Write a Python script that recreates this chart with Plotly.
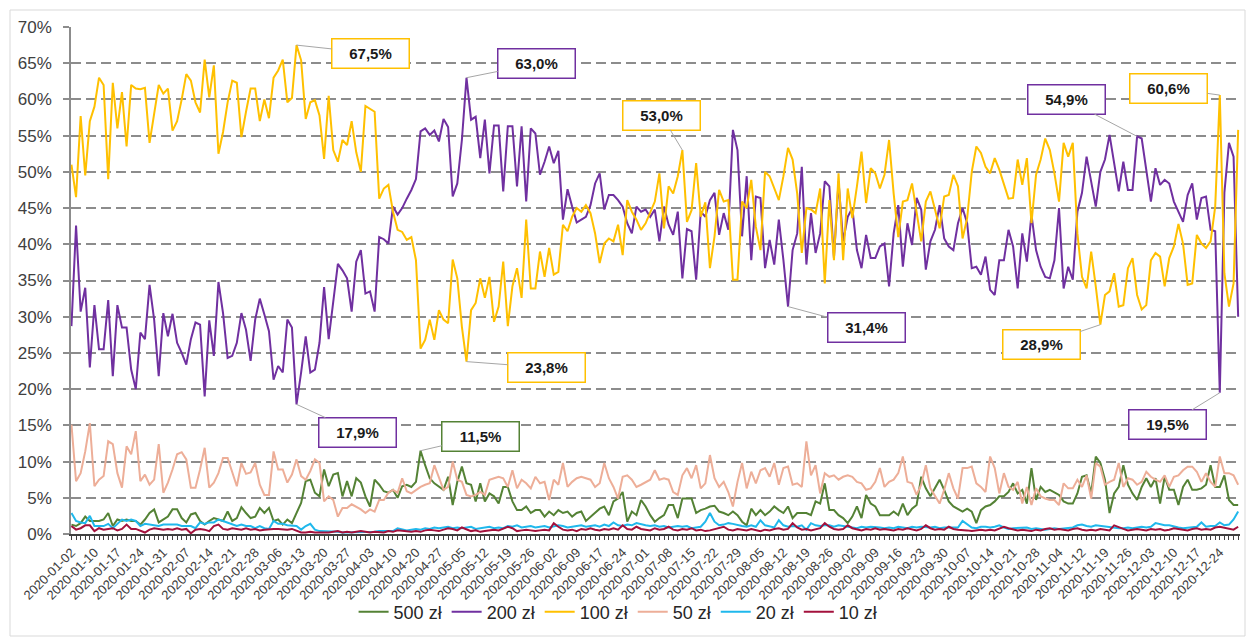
import pandas as pd
import plotly.graph_objects as go

# ---- categories: Polish business days of 2020 ----
START = "2020-01-02"
END = "2020-12-31"
HOLIDAYS = ["2020-01-06", "2020-04-13", "2020-05-01", "2020-06-11", "2020-11-11", "2020-12-25"]
dates = [d.strftime("%Y-%m-%d") for d in pd.bdate_range(START, END, freq="C", holidays=HOLIDAYS)]

TICK_LABELS = [
    "2020-01-02", "2020-01-10", "2020-01-17", "2020-01-24", "2020-01-31", "2020-02-07", "2020-02-14",
    "2020-02-21", "2020-02-28", "2020-03-06", "2020-03-13", "2020-03-20", "2020-03-27", "2020-04-03",
    "2020-04-10", "2020-04-20", "2020-04-27", "2020-05-05", "2020-05-12", "2020-05-19", "2020-05-26",
    "2020-06-02", "2020-06-09", "2020-06-17", "2020-06-24", "2020-07-01", "2020-07-08", "2020-07-15",
    "2020-07-22", "2020-07-29", "2020-08-05", "2020-08-12", "2020-08-19", "2020-08-26", "2020-09-02",
    "2020-09-09", "2020-09-16", "2020-09-23", "2020-09-30", "2020-10-07", "2020-10-14", "2020-10-21",
    "2020-10-28", "2020-11-04", "2020-11-12", "2020-11-19", "2020-11-26", "2020-12-03", "2020-12-10",
    "2020-12-17", "2020-12-24",
]

# ---- series values (%) ----
zl500 = [
    1.3, 1.1, 1.5, 2.4, 1.8, 1.8, 1.8, 2, 2.9, 1.1,
    2, 1.8, 2, 1.8, 1.8, 1.3, 2, 2.9, 3.4, 1.6,
    2, 2.4, 3.4, 3.4, 2.2, 1.6, 2.7, 2.9, 1.8, 1.3,
    1.8, 2.2, 2, 1.8, 3.1, 1.8, 2.2, 3.7, 2.9, 2.2,
    2.4, 3.6, 2.9, 3.6, 1.8, 2, 1.3, 2, 1.5, 2.9,
    4.3, 7.3, 7.5, 5.7, 5.2, 8.9, 6.6, 8.2, 8.4, 5.2,
    7.3, 5.2, 7.7, 7.1, 5.2, 3.8, 7.5, 6.8, 5.9, 5.7,
    6.1, 5, 6.6, 6.8,
    6.5, 7.2, 11.5, 9.5, 7.7, 7, 6.5, 6.1, 7.9, 4,
    7.2, 9.3, 7, 6.8, 4.5, 7, 4.5, 5.6, 5.2, 4.2,
    6.5, 6.5, 4.5, 3.3, 3.3, 3.8, 2.9, 3.3, 3.3, 2.4,
    3.1, 2.6, 3.3, 2.9, 3.1, 2.4, 2.9, 3.1, 1.8, 2.4,
    2.9, 3.5, 3.8, 2.6, 4.5, 4.9, 5.8, 1.7, 3.1, 2.6,
    4.7, 3.8, 2.6, 1.7, 2.2, 2.6, 4, 4, 2.2, 4.9, 4.9,
    4.9, 2.9, 3.3, 3.5, 3.8, 3.9, 3.1, 2.9, 2.6, 3.1,
    2.6, 1.7, 1.2, 3.5, 2.6, 3.3, 2.6, 3.1, 3.8, 3.3,
    2.9, 3.8, 2.2, 2.9, 2.9, 2.9, 2.6, 4.5, 4.2, 7,
    3.3, 3.3, 2.6, 2.2, 1.5, 2.4, 3.8, 2.2, 5.4, 4.2,
    3.8, 2.6, 2.6, 2.6, 3.1, 2.6, 4.2, 2.6, 3.5, 4,
    7.9, 6.3, 5.2, 6.3, 7.5, 6.1, 4.5, 3.8, 3.5,
    3.1, 3.5, 3.1, 1.5, 3.3, 3.8, 4, 4.5, 5.2, 5.2,
    5.8, 7, 5.6, 6.1, 4.2, 9.1, 4.7, 6.5, 5.8, 6.1,
    5.8, 5.4, 4.5, 4.2, 4.2, 5.6, 7.9, 8.1, 5.6, 10.7,
    9.8, 7.5, 2.9, 5.6, 6.5, 9.5, 6.8, 5.6, 4.7, 6.5,
    7.7, 6.5, 7.7, 4.2, 7.9, 6.1, 6.1, 4, 6.5, 7.5,
    6.1, 6.1, 6.3, 6.8, 9.5, 6.5, 6.5, 8.1, 4.7, 4, 4,
]

zl200 = [
    28.7, 42.6, 30.7, 34, 23, 31.6, 25.5, 25.5, 32.3, 21.8,
    31.6, 28.5, 28.5, 22.7, 20, 27.8, 26.9, 34.4, 29.6, 21.8,
    30.5, 27.3, 30.4, 26.4, 25, 23.4, 26.9, 29.2, 28.9, 19,
    29.5, 24.6, 34.8, 30.5, 24.3, 24.6, 26.4, 30.5, 28.2, 23.9,
    29.6, 32.5, 30.3, 28, 21.3, 23.2, 22.3, 29.6, 28.5, 17.9,
    22.3, 27.3, 22.3, 22.7, 26.4, 34.1, 26.9, 32.5, 37.3, 36.4,
    35.3, 30.7, 37.6, 39.2, 33.2, 33.5, 30.7, 41, 40.7, 40.1,
    45.2, 44.1, 45, 46.3, 47.5, 49, 55.6, 56, 55.1, 55.7,
    54.2, 57.3, 56.2, 46.6, 48.4, 54.4, 63.0, 57.2, 57.6, 51.9,
    57.2, 49.8, 56.4, 56.4, 47.3, 56.3, 56.3, 48, 56.3, 45.9,
    56, 55.3, 49.6, 51.4, 53.5, 51.2, 52.9, 43.4, 47.6, 45.2,
    43, 43.4, 43.8, 45.4, 48.4, 49.8, 44.8, 46.8, 46.8, 46.1,
    45.2, 42.9, 41.5, 45.2, 44.5, 44.8, 43.8, 44.8, 40.4, 45.2,
    42.7, 41.3, 44.5, 35.3, 42.1, 41.8, 35.1, 44.5, 43.8, 46.1,
    47.1, 41.3, 44.3, 42, 55.8, 53, 41.1, 49.4, 37.8, 46.6,
    46.4, 36.7, 40.6, 37.2, 43.4, 37.8, 31.4, 39.2, 41.5, 50.7,
    37.2, 44.3, 38.8, 41.5, 48.7, 48, 38.1, 48.7, 40.4, 43.8,
    45, 39.2, 36.7, 41.3, 38.1, 38.1, 39.7, 40.1, 34.2, 41.5,
    45.4, 36.9, 42.9, 39.9, 46.4, 44.8, 36.5, 40.4, 42, 45.4,
    40.8, 39.7, 39.2, 42.9, 45, 42.9, 36.7, 36.9, 35.8, 38.3,
    33.7, 33, 37.8, 37.8, 42, 39.7, 33.9, 41.5, 37.6, 44.1,
    39.2, 36.9, 35.5, 35.3, 37.8, 45, 33.9, 36.9, 35.1, 44.5,
    47.1, 52.1, 48.9, 45.2, 50, 51.7, 55.1, 51.2, 47.3, 51.4,
    47.5, 47.5, 54.9, 54.6, 50.3, 45.9, 50.5, 48.2, 48.9, 48.4,
    45.9, 44.5, 43.1, 46.8, 48.4, 43.4, 46.4, 46.6, 42, 41.8,
    19.5, 47.1, 54, 52.1, 30,
]

zl100 = [
    51, 46.5, 57.7, 49.5, 57, 59, 63, 62, 49, 62.3,
    56, 61, 53.5, 62, 61.5, 61.4, 61.6, 54, 58, 62,
    60.8, 61.5, 55.7, 57, 60, 63.5, 62.6, 59.6, 58.2, 65.5,
    60.3, 64.7, 52.5, 55.5, 59.6, 62.6, 62.3, 54.8, 58.3, 61.5,
    61.5, 57, 60, 57.4, 63, 64, 65.5, 59.6, 60.2, 67.5,
    65.4, 57.3, 59.6, 59.9, 57.8, 51.8, 60.5, 53, 51.4, 54.4,
    53.7, 57, 52.7, 50, 59.1, 58.7, 58.3, 46.3, 47.7, 48.2,
    44.5, 42, 41.7, 40.6, 41, 37.8, 25.6, 26.8, 29.6, 26.8,
    30.9, 29.6, 29.1, 37.9, 35.3, 28.6, 23.8, 30.9, 31.9, 35.3,
    32.6, 35.5, 29.3, 31.4, 37.6, 28.7, 34.2, 36.7, 32.6, 43.4,
    33.9, 33.9, 39, 35.5, 39.5, 35.8, 36.2, 42.7, 41.8, 43.8,
    45, 44.5, 45.4, 44.3, 41.5, 37.4, 40.1, 40.8, 40.4, 42.7,
    38.5, 46.1, 44.5, 43.4, 42, 42.9, 44.3, 45.9, 49.8, 42.2,
    48, 47, 49.4, 53.0, 43.1, 44.7, 51.2, 43.8, 45.8, 36.7,
    41.1, 47.5, 45.9, 46.1, 35.1, 35.1, 45.9, 45, 48.9, 42.4,
    39.2, 50, 49.4, 47.7, 46.1, 49.4, 53.3, 51.7, 47, 38.8,
    45, 44.8, 44.3, 47.7, 34.6, 46.1, 37.8, 49.8, 37.8, 47.7,
    43.6, 48, 52.8, 45.7, 50.5, 49.8, 47.7, 49.6, 54.4, 47,
    41, 45.9, 46.1, 48.4, 44.3, 40.4, 45.9, 47.3, 44.8, 42.2,
    46.6, 46.8, 49.6, 48, 40.8, 43.6, 50, 53.5, 52.6, 50.7,
    49.8, 51.9, 50.3, 48.4, 46.3, 46.4, 51.7, 48.2, 51.9, 42.9,
    49.6, 51.7, 54.6, 53, 49.8, 45.9, 54, 52.1, 54, 41.5,
    35.5, 33.9, 39, 34.2, 28.9, 33, 33.5, 36, 31.4, 31.6,
    36.7, 38.1, 33, 31, 31.6, 37.8, 38.8, 38.3, 34.2, 38.1,
    39.7, 42.8, 40.1, 34.4, 34.6, 41.3, 40.1, 39.5, 40.4, 45.2,
    60.6, 36, 31.4, 34.6, 55.8,
]

zl50 = [
    15.1, 7.3, 8.4, 11.4, 15.3, 6.6, 7.5, 8, 12.8, 12.4,
    8.4, 6.4, 12.1, 11, 14.2, 7.3, 8.2, 6.8, 7.5, 12.4,
    5.7, 7.1, 8.9, 11, 11.3, 10.3, 6.4, 6.4, 8.9, 11.9,
    6.4, 7.1, 8.4, 10.5, 10.5, 8.4, 6.6, 9.8, 8.3, 8.5,
    9.8, 6.8, 5.4, 5.4, 11.4, 8.9, 8.9, 7.1, 8.2, 10.3,
    8, 7.5, 8.7, 10.3, 9.8, 4.5, 5.2, 4.7, 2.4, 3.6,
    3.6, 4.1, 3.8, 3.4, 2.9, 3.4, 3.1, 4.7, 4.7, 5.7,
    6.1, 5.7, 7.7, 5.9,
    5.6, 6.1, 6.5, 6.8, 7, 9.5, 7.7, 6.1, 6.5, 10,
    7.5, 7.2, 5.4, 5.2, 5.4, 5.8, 5.4, 7.5, 7.7, 7.9,
    7.7, 6.5, 8.8, 6.3, 7.5, 7, 6.3, 7.9, 7, 7.2,
    4.7, 7.5, 6.8, 9.8, 6.5, 7.2, 7.7, 7.9, 7.7, 7.5,
    6.5, 7, 9.8, 7.7, 6.5, 4.9, 7.9, 8.1, 7.5, 6.5,
    6.8, 7.2, 7.5, 8.8, 7.5, 7.7, 7.5, 5.8, 5.4, 8.1, 9.1,
    7.7, 9.5, 6.3, 7, 10.9, 7.7, 6.5, 7.2, 5.8, 3.8,
    7.2, 9.8, 6.3, 8.6, 7, 8.8, 9.1, 7.9, 9.8, 6.8,
    9.1, 9.3, 6.8, 7, 6.5, 12.8, 8.1, 9.5, 5.6, 8.4,
    7.9, 8.1, 7.5, 7.9, 8.1, 7.9, 7.2, 7, 6.1, 6.3,
    7.2, 9.1, 6.5, 7.2, 7.5, 8.4, 10.7, 7.2, 7, 5.4,
    6.8, 9.5, 6.3, 5.2, 4.2, 6.1, 8.4, 6.3, 4.9,
    9.1, 9.1, 9.3, 7, 6.5, 5.8, 10.7, 9.1, 5.6, 8.4,
    6.5, 6.1, 7.2, 4.2, 6.5, 4, 6.3, 5.2, 4.9, 4.7,
    4.7, 4, 7, 6.3, 6.3, 7.5, 6.5, 8.1, 4.9, 9.8,
    9.3, 6.8, 7.2, 7.5, 9.8, 6.5, 7.7, 7.5, 6.8, 7.2,
    8.6, 7.9, 7.5, 7.2, 8.1, 6.5, 7.9, 8.1, 8.8, 9.3,
    9.3, 8.6, 7.2, 8.4, 7.2, 6.5, 10.7, 8.4, 8.4, 8.1, 6.8,
]

zl20 = [
    2.9, 1.8, 1.6, 1.5, 2.5, 1.1, 1.1, 1.1, 1.4, 0.8,
    1.4, 2, 1.8, 2, 1.8, 1.1, 1.4, 1.3, 1.1, 1.1,
    1.3, 1.3, 1.3, 1.3, 1.1, 1.1, 1.1, 0.8, 1.6, 1.4,
    1.6, 1.6, 2, 1.8, 1.6, 1.4, 1.1, 1.3, 1.1, 1.1,
    0.8, 1.1, 0.8, 0.7, 1.8, 1.4, 1.4, 1.2, 1.2, 1.1,
    0.6, 1.1, 1.4, 0.6, 0.4, 0.4, 0.3, 0.3, 0.3, 0.2,
    0.2, 0.3, 0.2, 0.3, 0.2, 0.3, 0.3, 0.4, 0.4, 0.3,
    0.4, 0.8, 0.6, 0.5,
    0.6, 0.7, 0.6, 0.8, 0.7, 0.9, 0.8, 0.9, 1.0, 0.8,
    0.9, 0.8, 0.9, 1.0, 0.7, 0.8, 0.9, 1.0, 0.8, 0.9,
    0.8, 1.1, 1.0, 1.2, 0.9, 1.0, 1.1, 0.9, 1.0, 1.1,
    0.9, 1.0, 1.2, 1.1, 0.9, 1.0, 1.1, 1.2, 1.0, 1.1,
    1.2, 1.0, 1.3, 1.1, 1.6, 1.2, 1.1, 1.3, 1.2, 1.5,
    1.3, 1.2, 1.1, 1.2, 1.0, 1.1, 0.9, 1.0, 1.1, 1.0, 1.1,
    0.8, 0.9, 1.0, 1.7, 2.9, 1.7, 1.2, 1.3, 1.5, 1.4,
    1.2, 1.1, 1.0, 1.2, 1.0, 1.9, 1.2, 1.0, 0.9, 1.9,
    1.2, 1.0, 1.1, 1.0, 1.2, 0.6, 1.5, 1.2, 1.1, 1.2,
    1.2, 1.0, 1.2, 1.1, 1.0, 1.0, 0.8, 1.0, 0.9, 1.0,
    1.0, 0.9, 0.8, 0.9, 0.8, 1.0, 0.9, 0.8, 1.0, 0.9,
    1.0, 0.9, 0.9, 1.0, 0.8, 0.9, 0.9, 1.0, 0.9,
    1.8, 1.3, 0.9, 0.8, 1.0, 1.0, 0.9, 1.0, 1.2, 0.9,
    0.7, 0.8, 0.8, 0.8, 0.9, 0.7, 0.8, 0.7, 0.6, 0.7,
    0.8, 0.7, 0.8, 0.8, 0.9, 1.2, 1.3, 1.1, 1.0, 1.2,
    1.1, 1.0, 1.0, 0.9, 0.8, 0.8, 0.9, 0.8, 0.9, 1.0,
    0.9, 1.0, 1.5, 1.3, 1.2, 1.2, 1.0, 0.9, 0.8, 0.9,
    0.9, 1.0, 1.6, 1.0, 1.1, 1.1, 1.6, 1.2, 1.3, 2.0, 3.1,
]

zl10 = [
    1.1, 0.6, 0.8, 1.2, 1.2, 0.4, 0.8, 0.6, 0.7, 0.8,
    0.5, 0.7, 1.3, 0.7, 0.7, 0.4, 0.2, 0.6, 0.8, 0.7,
    0.6, 0.7, 0.6, 0.8, 0.6, 0.7, 0.1, 0.6, 0.7, 0.6,
    0.4, 1.1, 1.3, 0.7, 0.6, 0.8, 0.7, 0.6, 0.8, 0.6,
    0.7, 0.5, 0.6, 0.7, 0.7, 0.7, 0.6, 0.6, 0.7, 0.4,
    0.2, 0.2, 0.3, 0.2, 0.2, 0.1, 0.2, 0.3, 0.4, 0.2,
    0.3, 0.2, 0.3, 0.4, 0.3, 0.2, 0.3, 0.3, 0.2, 0.4,
    0.3, 0.5, 0.4, 0.3,
    0.3, 0.4, 0.3, 0.5, 0.6, 0.5, 0.4, 0.6, 0.8, 0.7,
    0.5, 0.9, 0.6, 0.4, 0.5, 0.3, 0.4, 0.5, 0.6, 0.5,
    0.7, 1.0, 0.8, 0.4, 0.5, 0.6, 0.5, 0.4, 0.5, 0.6,
    0.5, 1.5, 1.0, 0.6, 0.5, 0.6, 0.4, 0.7, 0.6, 0.8,
    0.6, 0.5, 0.7, 0.6, 0.8, 0.6, 1.2, 0.7, 0.6, 1.0,
    0.7, 0.6, 0.5, 0.8, 0.6, 0.7, 1.0, 0.6, 0.5, 0.7, 0.6,
    0.8, 0.5, 0.6, 0.4, 0.5, 0.7, 0.9, 1.0, 0.6, 0.5,
    0.7, 0.6, 0.5, 0.7, 0.6, 0.4, 0.6, 0.5, 0.7, 0.8,
    0.6, 0.7, 1.5, 0.9, 0.6, 0.7, 0.5, 0.6, 0.8, 1.5,
    1.0, 0.7, 0.6, 0.7, 1.2, 0.8, 0.6, 0.5, 0.7, 0.6,
    0.8, 0.6, 0.7, 0.6, 0.5, 0.7, 0.6, 0.8, 0.6, 0.5,
    0.7, 1.2, 0.8, 0.6, 0.7, 0.6, 1.0, 0.7, 0.6,
    0.6, 0.5, 0.4, 0.5, 0.6, 0.5, 0.6, 0.5, 0.7, 1.0,
    0.8, 0.6, 0.5, 0.6, 0.5, 0.4, 0.6, 0.5, 0.7, 0.8,
    0.6, 0.7, 0.6, 0.5, 0.7, 0.8, 0.6, 0.5, 0.6, 0.5,
    0.7, 0.6, 0.5, 1.2, 0.9, 0.7, 0.5, 0.6, 0.7, 0.6,
    0.5, 0.7, 0.6, 0.7, 0.5, 0.6, 0.8, 0.7, 0.6, 0.5,
    0.7, 0.8, 0.6, 0.7, 0.6, 0.9, 1.0, 0.9, 0.8, 0.6, 1.0,
]

SERIES_NAMES = ["500 zł", "200 zł", "100 zł", "50 zł", "20 zł", "10 zł"]
SERIES_VALUES = [zl500, zl200, zl100, zl50, zl20, zl10]
COLORS = ["#548235", "#7030A0", "#FFC000", "#EDAE98", "#1FB8EC", "#A3113C"]

# labelled points: (series index, position in dates, box offset x, box offset y)
CALLOUTS = [
    (2, 49, 74, 8), (1, 49, 61, 28),
    (1, 86, 70, -14), (2, 86, 80, 6),
    (0, 76, 60, -14),
    (2, 133, -21, -35),
    (1, 156, 78, 21),
    (2, 224, -59, 20),
    (1, 232, -71, -37),
    (2, 250, -51, -7), (1, 250, -52, 32),
]

FONT = "Liberation Sans, Arial, sans-serif"

n = min(len(dates), *[len(v) for v in SERIES_VALUES])
xs = list(range(n))

fig = go.Figure()
for name, vals, col in zip(SERIES_NAMES, SERIES_VALUES, COLORS):
    fig.add_trace(go.Scatter(
        x=xs, y=vals[:n], name=name, mode="lines",
        line=dict(color=col, width=2),
        customdata=dates[:n],
        hovertemplate="%{customdata}: %{y:.1f}%<extra>" + name + "</extra>",
    ))

tickvals = [dates.index(t) for t in TICK_LABELS if t in dates]
ticktext = [t for t in TICK_LABELS if t in dates]

annotations = []
for si, idx, ax, ay in CALLOUTS:
    v = SERIES_VALUES[si][idx]
    txt = f"{v:.1f}".replace(".", ",") + "%"
    annotations.append(dict(
        x=idx, y=v, xref="x", yref="y",
        text="<b>" + txt + "</b>",
        showarrow=True, arrowhead=0, arrowwidth=1, arrowcolor="#A6A6A6",
        ax=ax, ay=ay, standoff=0, startstandoff=0,
        bgcolor="white", bordercolor=COLORS[si], borderwidth=1.5, borderpad=3,
        width=70, height=22,
        font=dict(family=FONT, size=15, color="#1a1a1a"),
    ))

fig.update_layout(
    width=1247, height=641,
    paper_bgcolor="white", plot_bgcolor="white",
    margin=dict(l=71, r=7, t=27, b=107, autoexpand=False),
    font=dict(family=FONT, color="#404040"),
    showlegend=True,
    legend=dict(
        orientation="h", x=0.468, xanchor="center", y=-0.154, yanchor="middle",
        font=dict(family=FONT, size=18, color="#262626"),
        bgcolor="rgba(0,0,0,0)", itemwidth=30, tracegroupgap=0,
    ),
    annotations=annotations,
    shapes=[dict(
        type="rect", xref="paper", yref="paper",
        x0=(10 - 71) / 1169, x1=(1245 - 71) / 1169,
        y0=(534 - 636) / 507, y1=(534 - 10) / 507,
        line=dict(color="#D9D9D9", width=1), fillcolor="rgba(0,0,0,0)", layer="below",
    )],
)

fig.update_xaxes(
    range=[-0.1, n - 1 + 0.4],
    tickmode="array", tickvals=tickvals, ticktext=ticktext,
    tickangle=-45, tickfont=dict(family=FONT, size=13, color="#404040"),
    showgrid=False, zeroline=False,
    showline=True, linecolor="#404040", linewidth=1.5,
    ticks="outside", ticklen=4, tickcolor="#404040", tickwidth=1,
    minor=dict(ticks="outside", dtick=1, tick0=0, ticklen=4, tickcolor="#404040", tickwidth=1, showgrid=False),
    automargin=False,
)
fig.update_yaxes(
    range=[0, 70], dtick=5, tick0=0, ticksuffix="%",
    tickfont=dict(family=FONT, size=17, color="#404040"),
    showgrid=True, gridcolor="#8C8C8C", gridwidth=1.5, griddash="10px,5px",
    zeroline=False,
    showline=True, linecolor="#8C8C8C", linewidth=1.5,
    ticks="outside", ticklen=6, tickcolor="#8C8C8C", tickwidth=1.5,
    ticklabelstandoff=8,
    automargin=False,
)

fig.write_html(
    "out.html",
    config={"displayModeBar": False},
    post_script="document.body.style.margin='0';document.body.style.padding='0';document.body.style.overflow='hidden';",
)
